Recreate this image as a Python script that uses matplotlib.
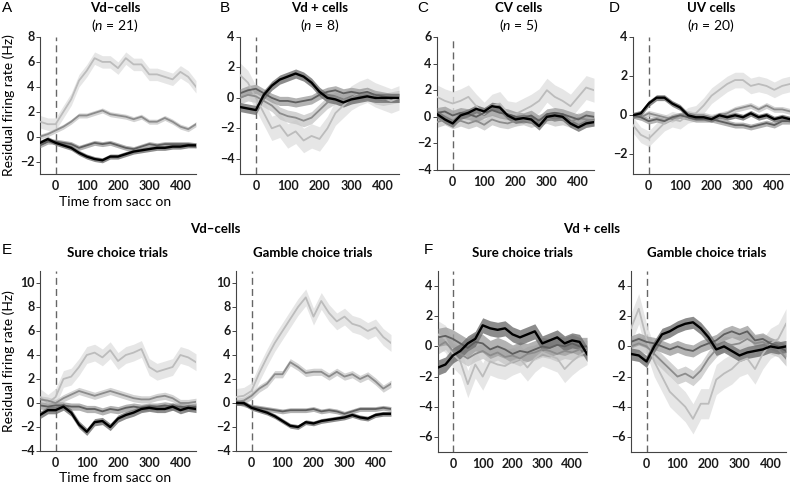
import numpy as np
import matplotlib
matplotlib.use("Agg")
import matplotlib.pyplot as plt

plt.rcParams["font.family"] = ["Lato", "DejaVu Sans"]
plt.rcParams["mathtext.fontset"] = "custom"
plt.rcParams["mathtext.it"] = "Lato:italic"
plt.rcParams["mathtext.rm"] = "Lato"

# time axis (ms from saccade onset), values read every 25 ms
t = np.arange(-50, 451, 25)

# Panel A: Vd- cells
a_light = [1.2, 1.0, 1.0, 2.0, 3.0, 4.5, 5.3, 6.3, 6.0, 6.0, 5.5, 6.3, 5.8, 5.8, 5.0, 5.0, 4.8, 4.6, 5.2, 4.8, 4.0]
a_med = [0.0, 0.2, 0.5, 0.8, 1.2, 1.7, 1.7, 1.9, 2.1, 1.8, 1.7, 1.6, 1.4, 1.6, 1.2, 1.2, 1.5, 1.2, 0.8, 0.6, 1.0]
a_dark = [-0.7, -0.4, -0.4, -0.5, -0.6, -0.9, -0.7, -0.5, -0.6, -0.5, -0.7, -0.9, -1.0, -0.8, -0.6, -0.7, -0.6, -0.6, -0.6, -0.6, -0.7]
a_black = [-0.5, -0.2, -0.5, -0.7, -0.9, -1.3, -1.6, -1.8, -1.9, -1.6, -1.6, -1.4, -1.2, -1.1, -1.0, -0.9, -0.9, -0.8, -0.8, -0.7, -0.7]

# Panel B: Vd+ cells
b_light = [1.5, 1.0, 0.0, -1.0, -2.0, -1.8, -2.5, -2.2, -2.8, -2.5, -2.7, -2.0, -1.0, -0.5, 0.0, 0.3, 0.5, 0.2, 0.0, -0.2, 0.0]
b_med = [0.0, 0.2, 0.1, -0.2, -0.5, -1.0, -1.2, -1.3, -1.5, -1.3, -0.8, -0.3, 0.0, -0.2, 0.0, 0.2, 0.3, 0.0, -0.1, 0.0, 0.1]
b_dark = [0.3, 0.5, 0.6, 0.3, 0.0, -0.2, -0.2, -0.3, -0.2, -0.1, 0.2, 0.4, 0.5, 0.3, 0.4, 0.3, 0.4, 0.2, 0.1, 0.0, 0.0]
b_black = [-0.6, -0.7, -0.8, 0.2, 0.8, 1.2, 1.4, 1.6, 1.4, 1.0, 0.4, 0.0, -0.1, -0.3, -0.1, 0.0, 0.1, 0.0, 0.0, 0.0, 0.0]

# Panel C: CV cells
c_light = [1.5, 1.2, 1.0, 1.2, 1.5, 0.8, 0.2, 0.8, 1.0, 0.3, 0.2, 0.5, 0.8, 1.2, 2.0, 1.5, 1.2, 0.8, 1.5, 2.2, 2.0]
c_med = [-0.4, -0.2, -0.5, -0.3, -0.5, -0.3, -0.6, -0.2, -0.4, -0.5, -0.3, -0.2, -0.4, -0.2, -0.1, -0.3, -0.2, -0.4, -0.1, -0.2, -0.3]
c_dark = [0.3, 0.4, 0.1, 0.3, 0.2, 0.0, 0.3, 0.5, 0.3, 0.2, 0.0, -0.1, 0.1, -0.3, 0.2, 0.3, 0.2, 0.0, -0.2, 0.1, 0.0]
c_black = [0.2, -0.2, -0.5, 0.1, 0.3, 0.6, 0.4, 0.8, 0.7, 0.1, -0.2, -0.1, -0.2, -0.7, 0.0, 0.1, 0.0, -0.5, -0.8, -0.5, -0.4]

# Panel D: UV cells
d_light = [-0.5, -1.0, -1.2, -0.8, -0.4, -0.2, -0.3, 0.0, 0.1, 0.5, 1.0, 1.3, 1.6, 1.8, 1.8, 1.5, 1.6, 1.5, 1.3, 1.5, 1.6]
d_med = [0.0, -0.1, 0.1, 0.0, -0.1, -0.2, 0.0, 0.1, 0.0, 0.0, -0.1, 0.0, 0.1, 0.3, 0.4, 0.5, 0.3, 0.5, 0.3, 0.3, 0.2]
d_dark = [0.0, -0.1, -0.3, -0.2, -0.3, -0.1, 0.0, -0.1, -0.2, -0.2, -0.2, -0.3, -0.4, -0.5, -0.5, -0.6, -0.5, -0.4, -0.5, -0.3, -0.3]
d_black = [0.0, 0.1, 0.6, 0.9, 0.9, 0.6, 0.4, 0.0, -0.1, -0.1, -0.2, 0.0, -0.1, 0.0, -0.1, 0.1, -0.1, 0.0, -0.2, -0.1, -0.2]

# Panel E: Vd- cells, sure / gamble choice trials
es_light = [0.5, 0.0, 0.5, 2.0, 2.2, 3.0, 4.0, 4.2, 3.8, 4.4, 3.5, 4.0, 4.2, 4.5, 3.0, 2.6, 2.8, 3.0, 4.0, 3.8, 3.4]
es_med = [0.3, 0.2, 0.0, 0.4, 0.7, 1.0, 0.8, 0.6, 0.8, 1.0, 0.8, 0.6, 0.4, 0.3, 0.3, 0.5, 0.6, 0.4, 0.0, 0.0, 0.1]
es_dark = [-0.2, -0.3, -0.2, -0.2, -0.3, -0.3, -0.5, -0.5, -0.7, -0.5, -0.6, -0.4, -0.3, -0.4, -0.3, -0.3, -0.2, -0.3, -0.3, -0.4, -0.3]
es_black = [-1.0, -0.6, -0.6, -0.3, -0.8, -1.8, -2.4, -1.6, -1.5, -2.0, -1.3, -1.0, -0.8, -0.5, -0.4, -0.5, -0.5, -0.3, -0.6, -0.4, -0.5]

eg_light = [0.5, 0.6, 1.0, 2.5, 3.8, 5.0, 6.0, 7.0, 8.0, 8.8, 7.2, 8.5, 7.5, 6.8, 7.2, 6.6, 6.4, 6.0, 6.3, 5.5, 5.0]
eg_med = [0.1, 0.2, 0.6, 1.2, 1.6, 2.4, 2.4, 3.4, 3.0, 2.5, 2.6, 2.6, 2.2, 2.6, 2.2, 2.4, 2.0, 2.3, 1.8, 1.2, 1.6]
eg_dark = [0.1, -0.1, -0.3, -0.4, -0.5, -0.6, -0.7, -0.6, -0.6, -0.6, -0.5, -0.7, -0.6, -0.7, -0.9, -0.7, -0.5, -0.5, -0.5, -0.4, -0.5]
eg_black = [0.0, 0.0, -0.4, -0.6, -0.8, -1.1, -1.5, -1.9, -2.0, -1.6, -1.7, -1.5, -1.4, -1.3, -1.2, -1.0, -1.2, -1.3, -1.0, -0.9, -0.9]

# Panel F: Vd+ cells, sure / gamble choice trials
fs_light = [0.8, 0.5, -0.5, -1.0, -2.5, -1.2, -2.0, -1.0, -1.2, -1.3, -1.0, -0.8, -1.4, -0.8, -0.4, -0.6, -0.8, -1.5, -1.0, -0.6, -0.3]
fs_med = [0.0, 0.3, -0.3, -0.5, -0.8, -0.5, -0.3, -0.6, -0.4, -0.7, -0.6, -0.8, -0.5, -0.4, -0.2, -0.3, -0.5, -0.3, -0.4, -0.2, -0.1]
fs_dark = [0.6, 0.7, 0.5, 0.2, -0.1, 0.3, 0.2, -0.2, 0.0, -0.2, -0.5, -0.3, -0.4, -0.2, 0.0, -0.1, 0.1, 0.0, 0.2, 0.0, 0.0]
fs_black = [-1.4, -1.2, -0.6, -0.3, 0.2, 0.5, 1.4, 1.2, 1.1, 1.2, 0.8, 0.6, 0.8, 1.0, 0.2, 0.4, 0.6, 0.2, 0.4, 0.3, -0.5]

fg_light = [1.2, 2.5, 0.5, -1.0, -2.0, -3.0, -3.5, -4.0, -4.8, -3.8, -3.8, -2.2, -1.8, -1.5, -1.0, -0.8, -1.5, -0.5, 0.2, 0.5, 1.5]
fg_med = [0.0, 0.2, 0.0, -0.5, -1.0, -1.5, -2.0, -1.8, -2.1, -1.6, -0.8, -0.2, 0.2, 0.1, 0.2, 0.5, 0.2, 0.3, 0.0, -0.2, -0.8]
fg_dark = [0.3, 0.5, 0.3, 0.2, 0.0, -0.2, 0.0, -0.2, -0.3, 0.0, 0.2, 0.4, 0.8, 1.0, 0.8, 1.0, 0.4, 0.5, 0.2, 0.0, -0.3]
fg_black = [-0.5, -0.6, -1.0, 0.0, 0.8, 1.0, 1.3, 1.5, 1.6, 1.2, 0.6, -0.2, 0.0, -0.3, -0.6, -0.4, -0.3, -0.2, 0.0, -0.1, 0.0]

x_ticks = [0, 100, 200, 300, 400]

# line colours (light, medium, dark, black) and band colours
line_cols = ["#bcbcbc", "#8c8c8c", "#5e5e5e", "#000000"]
band_cols = ["#e0e0e0", "#c8c8c8", "#a0a0a0", "#707070"]
line_w = [1.3, 1.3, 1.3, 1.7]

W, H = 790, 486
fig = plt.figure(figsize=(7.9, 4.86), dpi=100)

tick_kw = dict(fontfamily="Lato", fontweight="bold", fontsize=9, color="#1a1a1a")

def ax_at(x0, x1, y0, y1):
    # pixel box -> figure fraction
    return fig.add_axes([x0 / W, 1 - y1 / H, (x1 - x0) / W, (y1 - y0) / H])

def panel(ax, series, sems, ylim, yticks):
    for i, (y, s) in enumerate(zip(series, sems)):
        y = np.array(y)
        ax.fill_between(t, y - s, y + s, color=band_cols[i], lw=0, alpha=0.8, zorder=1 + i)
        ax.plot(t, y, color=line_cols[i], lw=line_w[i], zorder=5 + i)
    ax.axvline(0, color="#666666", lw=1, ls=(0, (5, 3)), zorder=0)
    ax.set_xlim(-50, 450)
    ax.set_ylim(*ylim)
    ax.set_xticks(x_ticks)
    ax.set_yticks(yticks)
    ax.set_xticklabels([])
    ax.set_yticklabels([])
    # bold tick labels drawn as annotations
    for v in x_ticks:
        ax.annotate(str(v), xy=(v, 0), xycoords=("data", "axes fraction"),
                    xytext=(0, -4), textcoords="offset points",
                    ha="center", va="top", annotation_clip=False, **tick_kw)
    for v in yticks:
        ax.annotate(str(v).replace("-", "\u2212"), xy=(0, v),
                    xycoords=("axes fraction", "data"),
                    xytext=(-4, 0), textcoords="offset points",
                    ha="right", va="center", annotation_clip=False, **tick_kw)
    for sp in ["top", "right"]:
        ax.spines[sp].set_visible(False)
    for sp in ["left", "bottom"]:
        ax.spines[sp].set_color("#444444")
        ax.spines[sp].set_linewidth(0.8)
    ax.tick_params(axis="y", length=3, width=0.7, color="#444444")
    ax.tick_params(axis="x", length=0)

# top row
axA = ax_at(40, 196, 37, 174)
panel(axA, [a_light, a_med, a_dark, a_black], [0.5, 0.2, 0.2, 0.2], (-3, 8), [-2, 0, 2, 4, 6, 8])
axB = ax_at(240, 399, 37, 174)
panel(axB, [b_light, b_med, b_dark, b_black], [0.8, 0.4, 0.3, 0.3], (-5, 4), [-4, -2, 0, 2, 4])
axC = ax_at(437, 594, 37, 170)
panel(axC, [c_light, c_med, c_dark, c_black], [0.9, 0.4, 0.4, 0.3], (-4, 6), [-4, -2, 0, 2, 4, 6])
axD = ax_at(633, 790, 37, 174)
panel(axD, [d_light, d_med, d_dark, d_black], [0.4, 0.15, 0.15, 0.15], (-3, 4), [-2, 0, 2, 4])

# bottom row
axE1 = ax_at(40, 196, 271, 451)
panel(axE1, [es_light, es_med, es_dark, es_black], [0.7, 0.3, 0.3, 0.3], (-4, 11), [-4, -2, 0, 2, 4, 6, 8, 10])
axE2 = ax_at(236, 391, 271, 451)
panel(axE2, [eg_light, eg_med, eg_dark, eg_black], [0.7, 0.3, 0.2, 0.2], (-4, 11), [-4, -2, 0, 2, 4, 6, 8, 10])
axF1 = ax_at(438, 587, 271, 452)
panel(axF1, [fs_light, fs_med, fs_dark, fs_black], [0.9, 0.5, 0.6, 0.5], (-7, 5), [-6, -4, -2, 0, 2, 4])
axF2 = ax_at(631, 786, 271, 452)
panel(axF2, [fg_light, fg_med, fg_dark, fg_black], [1.0, 0.5, 0.4, 0.4], (-7, 5), [-6, -4, -2, 0, 2, 4])

def ftext(px, py, s, **kw):
    fig.text(px / W, 1 - py / H, s, **kw)

title_kw = dict(fontfamily="Lato", fontweight="bold", fontsize=9.5, ha="center", va="center")
letter_kw = dict(fontfamily="Liberation Sans", fontsize=11, ha="left", va="center")
lab_kw = dict(fontfamily="Lato", fontsize=10, ha="center", va="center")

ftext(2, 8, "A", **letter_kw)
ftext(115, 8, "Vd\u2013cells", **title_kw)
ftext(115, 25, "($n$ = 21)", **lab_kw)
ftext(220, 8, "B", **letter_kw)
ftext(320, 8, "Vd + cells", **title_kw)
ftext(320, 25, "($n$ = 8)", **lab_kw)
ftext(417, 8, "C", **letter_kw)
ftext(519, 8, "CV cells", **title_kw)
ftext(519, 25, "($n$ = 5)", **lab_kw)
ftext(609, 8, "D", **letter_kw)
ftext(711, 8, "UV cells", **title_kw)
ftext(711, 25, "($n$ = 20)", **lab_kw)

ftext(215, 229, "Vd\u2013cells", **title_kw)
ftext(592, 229, "Vd + cells", **title_kw)
ftext(2, 250, "E", **letter_kw)
ftext(424, 250, "F", **letter_kw)
ftext(117, 253, "Sure choice trials", **title_kw)
ftext(313, 253, "Gamble choice trials", **title_kw)
ftext(522, 253, "Sure choice trials", **title_kw)
ftext(707, 253, "Gamble choice trials", **title_kw)

ftext(115, 202, "Time from sacc on", **lab_kw)
ftext(115, 478, "Time from sacc on", **lab_kw)
ftext(9, 105, "Residual firing rate (Hz)", rotation=90, **lab_kw)
ftext(9, 361, "Residual firing rate (Hz)", rotation=90, **lab_kw)

fig.savefig("out.png", dpi=100)
